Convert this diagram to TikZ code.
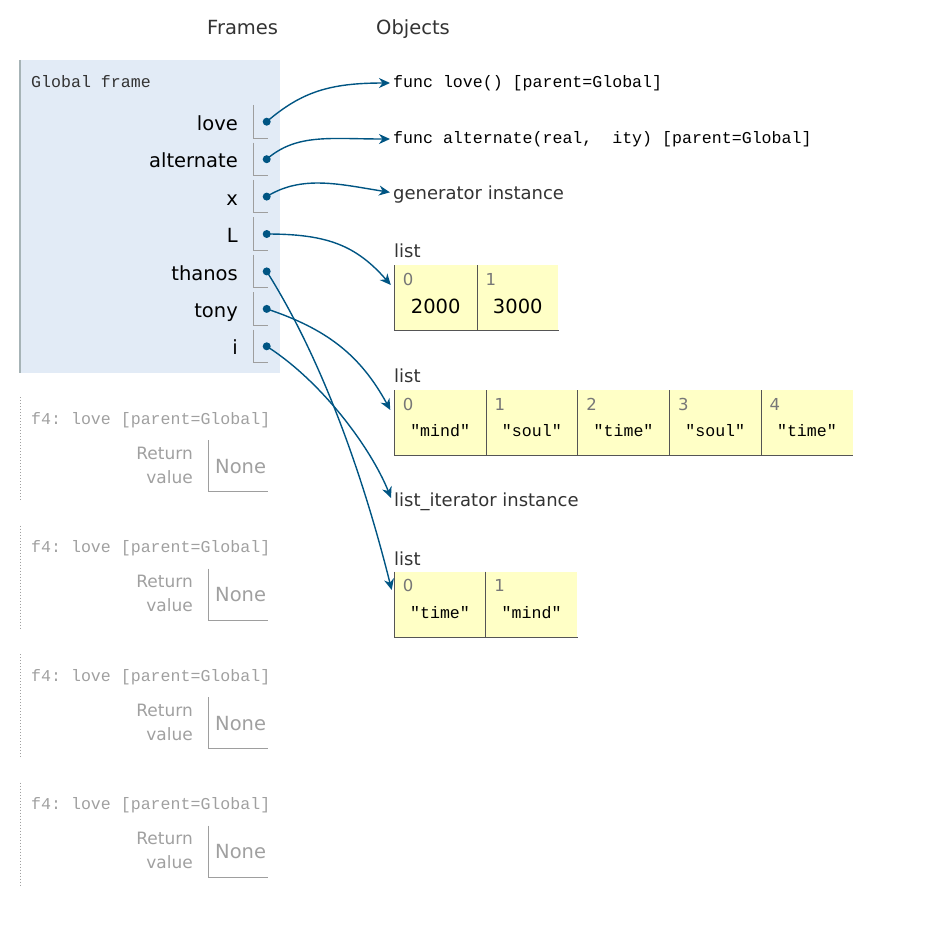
\documentclass[tikz,border=0pt]{standalone}
\usepackage{fontspec}
\setmainfont{DejaVu Sans}
\setmonofont{Liberation Mono}
\usetikzlibrary{arrows.meta,positioning}

\definecolor{framebg}{HTML}{E2EBF6}
\definecolor{frameedge}{HTML}{A6B3B6}
\definecolor{heapbg}{HTML}{FFFFC6}
\definecolor{ptrblue}{HTML}{005583}
\definecolor{dimgray}{HTML}{A0A0A0}
\definecolor{labelgray}{HTML}{333333}
\definecolor{idxgray}{HTML}{777777}
\definecolor{slotgray}{HTML}{9E9E9E}
\definecolor{celledge}{HTML}{555555}

\tikzset{
    header/.style = {font = {\fontsize{19.5}{22}\selectfont}, labelgray, anchor = base west, inner sep = 0pt},
    varname/.style = {font = {\fontsize{19.5}{22}\selectfont}, black, anchor = base east, inner sep = 0pt},
    code/.style = {font = {\ttfamily\fontsize{16.6}{20}\selectfont}, inner sep = 0pt},
    objcode/.style = {code, black, anchor = base west, inner xsep = 3pt},
    objlabel/.style = {font = {\fontsize{18}{21}\selectfont}, labelgray, anchor = base west, inner xsep = 3pt, inner ysep = 0pt},
    ptr/.style = {circle, fill = ptrblue, inner sep = 0pt, minimum size = 8pt},
    ref/.style = {draw = ptrblue, line width = 1.4pt, -{Stealth[length = 11pt, width = 10pt, inset = 3.5pt]}},
    slot/.style = {draw = slotgray, line width = 1pt},
    cell/.style = {fill = heapbg, anchor = north west, minimum height = 65pt, inner sep = 0pt},
    cellline/.style = {draw = celledge, line width = 1pt},
    idx/.style = {font = {\fontsize{16.5}{19}\selectfont}, idxgray, anchor = base west, inner sep = 0pt},
    numval/.style = {font = {\fontsize{19.5}{22}\selectfont}, black, anchor = base, inner sep = 0pt},
    strval/.style = {code, black, anchor = base},
    dimtitle/.style = {code, dimgray, anchor = base west},
    dimtext/.style = {font = {\fontsize{17}{20}\selectfont}, dimgray, anchor = base east, inner sep = 0pt},
    dimval/.style = {font = {\fontsize{19.5}{22}\selectfont}, dimgray, anchor = base west, inner sep = 0pt}
}

\begin{document}
\begin{tikzpicture}[x = 1pt, y = -1pt]
        \useasboundingbox (0, 0) rectangle (925, 931);

        \node[header] (frames-head) at (207, 34.3) {Frames};
        \node[header] (objects-head) at (376, 34.3) {Objects};

        \node[fill = framebg, anchor = north west, minimum width = 260pt, minimum height = 312.7pt, inner sep = 0pt] (global) at (20, 60) {};
        \draw[frameedge, line width = 1.5pt] (global.north west) -- (global.south west);
        \node[code, labelgray, anchor = base west] (global-title) at (31, 87.3) {Global frame};

        \node[varname] (n-love) at (238, 130.3) {love};
        \draw[slot] (253.5, 105) |- (268, 138);
        \node[ptr] (p-love) at (266.7, 121.7) {};
        \node[varname] (n-alternate) at (238, 167.8) {alternate};
        \draw[slot] (253.5, 142.5) |- (268, 175.5);
        \node[ptr] (p-alternate) at (266.7, 159.2) {};
        \node[varname] (n-x) at (238, 205.2) {x};
        \draw[slot] (253.5, 179.9) |- (268, 212.9);
        \node[ptr] (p-x) at (266.7, 196.6) {};
        \node[varname] (n-L) at (238, 242.6) {L};
        \draw[slot] (253.5, 217.3) |- (268, 250.3);
        \node[ptr] (p-L) at (266.7, 234) {};
        \node[varname] (n-thanos) at (238, 280) {thanos};
        \draw[slot] (253.5, 254.7) |- (268, 287.7);
        \node[ptr] (p-thanos) at (266.7, 271.4) {};
        \node[varname] (n-tony) at (238, 317.5) {tony};
        \draw[slot] (253.5, 292.2) |- (268, 325.2);
        \node[ptr] (p-tony) at (266.7, 308.9) {};
        \node[varname] (n-i) at (238, 354.9) {i};
        \draw[slot] (253.5, 329.6) |- (268, 362.6);
        \node[ptr] (p-i) at (266.7, 346.3) {};

        \draw[dimgray, dotted, line width = 1pt] (20, 397) -- (20, 501);
        \node[dimtitle] (f1-title) at (31, 424.3) {f4: love [parent=Global]};
        \node[dimtext] (f1-ret) at (193, 459.3) {Return};
        \node[dimtext] (f1-val) at (193, 483.3) {value};
        \draw[slot] (208.7, 440) |- (268, 491.7);
        \node[dimval] (f1-none) at (215, 473.3) {None};

        \draw[dimgray, dotted, line width = 1pt] (20, 525.5) -- (20, 629.5);
        \node[dimtitle] (f2-title) at (31, 552.8) {f4: love [parent=Global]};
        \node[dimtext] (f2-ret) at (193, 587.8) {Return};
        \node[dimtext] (f2-val) at (193, 611.8) {value};
        \draw[slot] (208.7, 568.5) |- (268, 620.2);
        \node[dimval] (f2-none) at (215, 601.8) {None};

        \draw[dimgray, dotted, line width = 1pt] (20, 654) -- (20, 758);
        \node[dimtitle] (f3-title) at (31, 681.3) {f4: love [parent=Global]};
        \node[dimtext] (f3-ret) at (193, 716.3) {Return};
        \node[dimtext] (f3-val) at (193, 740.3) {value};
        \draw[slot] (208.7, 697) |- (268, 748.7);
        \node[dimval] (f3-none) at (215, 730.3) {None};

        \draw[dimgray, dotted, line width = 1pt] (20, 782.5) -- (20, 886.5);
        \node[dimtitle] (f4-title) at (31, 809.8) {f4: love [parent=Global]};
        \node[dimtext] (f4-ret) at (193, 844.8) {Return};
        \node[dimtext] (f4-val) at (193, 868.8) {value};
        \draw[slot] (208.7, 825.5) |- (268, 877.2);
        \node[dimval] (f4-none) at (215, 858.8) {None};

        \node[objcode] (func-love) at (390, 87.3) {func love() [parent=Global]};
        \node[objcode] (func-alt) at (390, 143.3) {func alternate(real,\ \ ity) [parent=Global]};
        \node[objlabel] (gen) at (390, 199.3) {generator instance};

        \node[objlabel] (L-head) at (391, 257.3) {list};
        \node[cell, minimum width = 82.4pt] (L0) at (394.3, 265) {};
        \node[cell, minimum width = 81pt, right = 0pt of L0] (L1) {};
        \draw[cellline] (L0.north west) |- (L1.south east);
        \draw[cellline] (L1.north west) -- (L1.south west);
        \node[idx] (L0-idx) at ([xshift = 8.4pt, yshift = -20.7pt]L0.north west) {0};
        \node[idx] (L1-idx) at ([xshift = 8.4pt, yshift = -20.7pt]L1.north west) {1};
        \node[numval] (L0-val) at ([yshift = -48.3pt]L0.north) {2000};
        \node[numval] (L1-val) at ([yshift = -48.3pt]L1.north) {3000};

        \node[objlabel] (T-head) at (391, 382.7) {list};
        \node[cell, minimum width = 91.3pt] (T0) at (394.3, 390) {};
        \node[cell, minimum width = 91.3pt, right = 0pt of T0] (T1) {};
        \node[cell, minimum width = 91.3pt, right = 0pt of T1] (T2) {};
        \node[cell, minimum width = 91.3pt, right = 0pt of T2] (T3) {};
        \node[cell, minimum width = 91.3pt, right = 0pt of T3] (T4) {};
        \draw[cellline] (T0.north west) |- (T4.south east);
        \draw[cellline] (T1.north west) -- (T1.south west);
        \draw[cellline] (T2.north west) -- (T2.south west);
        \draw[cellline] (T3.north west) -- (T3.south west);
        \draw[cellline] (T4.north west) -- (T4.south west);
        \node[idx] (T0-idx) at ([xshift = 8.4pt, yshift = -20.7pt]T0.north west) {0};
        \node[idx] (T1-idx) at ([xshift = 8.4pt, yshift = -20.7pt]T1.north west) {1};
        \node[idx] (T2-idx) at ([xshift = 8.4pt, yshift = -20.7pt]T2.north west) {2};
        \node[idx] (T3-idx) at ([xshift = 8.4pt, yshift = -20.7pt]T3.north west) {3};
        \node[idx] (T4-idx) at ([xshift = 8.4pt, yshift = -20.7pt]T4.north west) {4};
        \node[strval] (T0-val) at ([yshift = -46.7pt]T0.north) {"mind"};
        \node[strval] (T1-val) at ([yshift = -46.7pt]T1.north) {"soul"};
        \node[strval] (T2-val) at ([yshift = -46.7pt]T2.north) {"time"};
        \node[strval] (T3-val) at ([yshift = -46.7pt]T3.north) {"soul"};
        \node[strval] (T4-val) at ([yshift = -46.7pt]T4.north) {"time"};

        \node[objlabel] (iter) at (391, 506.7) {list\_iterator instance};

        \node[objlabel] (H-head) at (391, 565) {list};
        \node[cell, minimum width = 91pt] (H0) at (394.3, 571.7) {};
        \node[cell, minimum width = 91.4pt, right = 0pt of H0] (H1) {};
        \draw[cellline] (H0.north west) |- (H1.south east);
        \draw[cellline] (H1.north west) -- (H1.south west);
        \node[idx] (H0-idx) at ([xshift = 8.4pt, yshift = -20pt]H0.north west) {0};
        \node[idx] (H1-idx) at ([xshift = 8.4pt, yshift = -20pt]H1.north west) {1};
        \node[strval] (H0-val) at ([yshift = -46.6pt]H0.north) {"time"};
        \node[strval] (H1-val) at ([yshift = -46.6pt]H1.north) {"mind"};

        \draw[ref] (p-love.center) .. controls +(35, -30) and +(-60, 0) .. (func-love.west);
        \draw[ref] (p-alternate.center) .. controls +(30, -26) and +(-60, 0) .. (func-alt.west);
        \draw[ref] (p-x.center) .. controls +(35, -22) and +(-50, -8) .. ([yshift = 2pt]gen.west);
        \draw[ref] (p-L.center) .. controls +(60, 0) and +(-35, -40) .. ([xshift = -3.5pt, yshift = -20pt]L0.north west);
        \draw[ref] (p-thanos.center) .. controls +(60, 95) and +(-25, -100) .. ([xshift = -2.6pt, yshift = -18.3pt]H0.north west);
        \draw[ref] (p-tony.center) .. controls +(60, 20) and +(-30, -55) .. ([xshift = -4pt, yshift = -20pt]T0.north west);
        \draw[ref] (p-i.center) .. controls +(55, 35) and +(-20, -50) .. ([yshift = 4pt]iter.west);
\end{tikzpicture}
\end{document}
